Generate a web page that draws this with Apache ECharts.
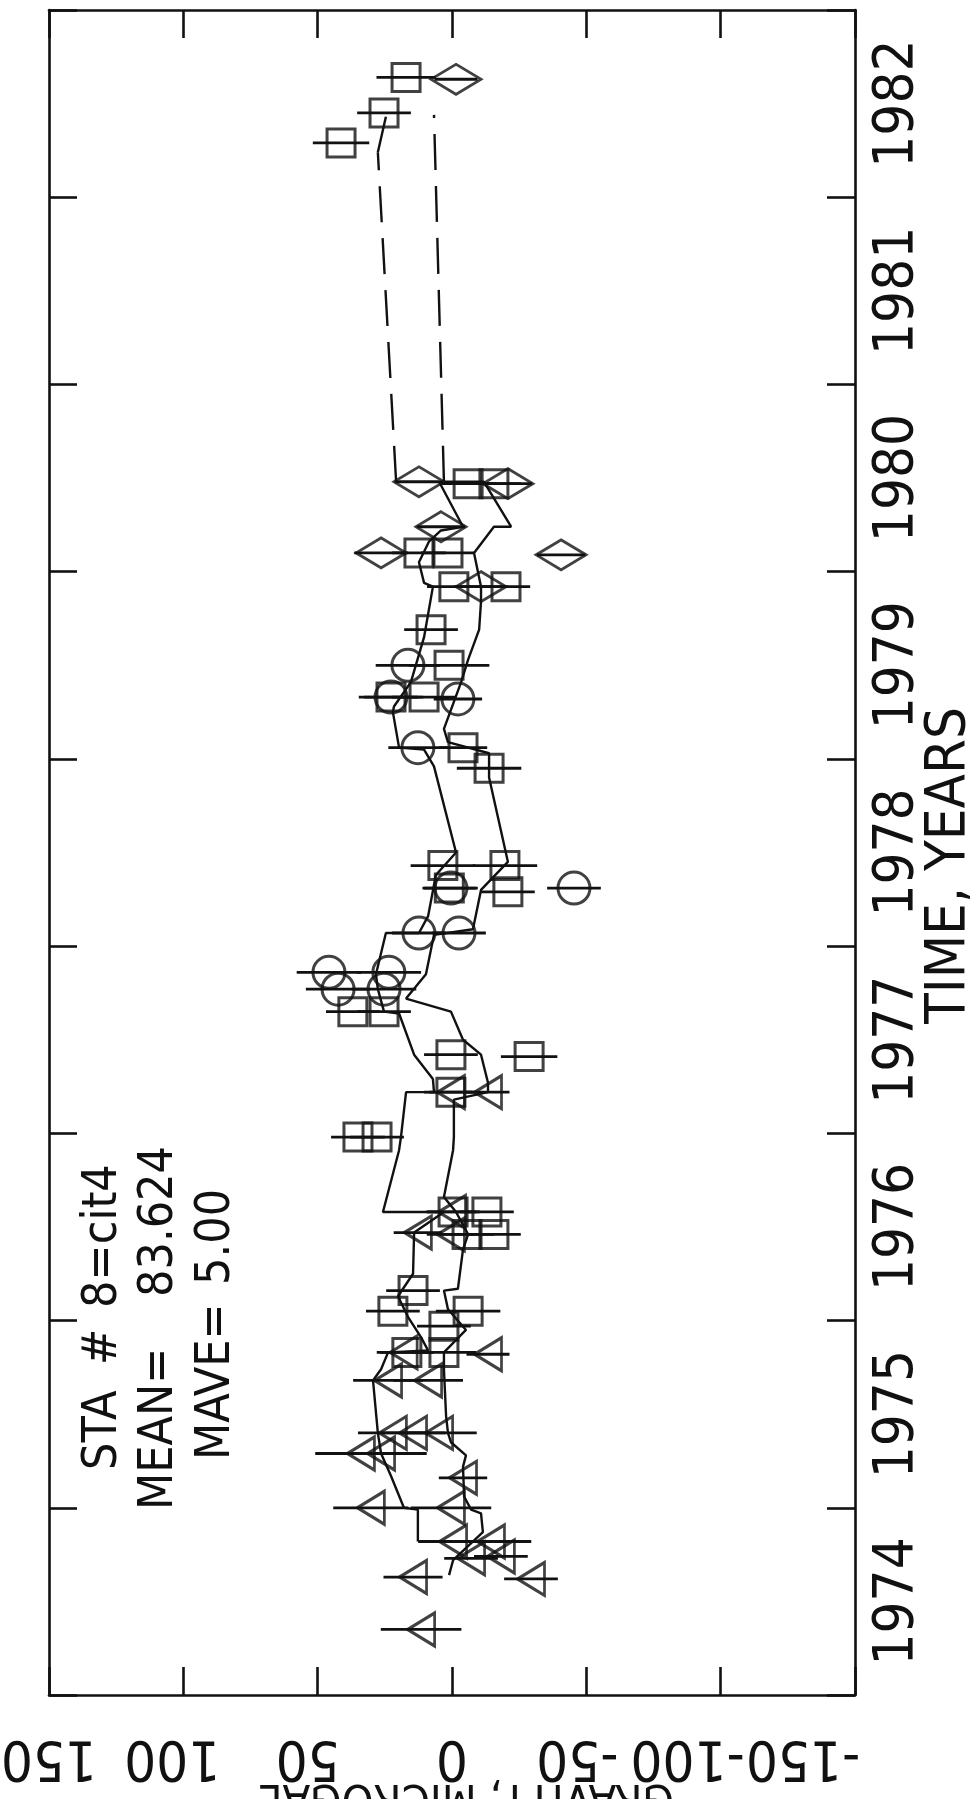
<!DOCTYPE html>
<html>
<head>
<meta charset="utf-8">
<script src="https://cdn.jsdelivr.net/npm/echarts@6/dist/echarts.min.js"></script>
<style>
html, body { margin: 0; padding: 0; background: #fff; }
#main { width: 976px; height: 1799px; }
</style>
</head>
<body>
<div id="main"></div>
<script>
// station gravity vs time, plotted sideways like the scanned page

var FONT = "'Liberation Sans Narrow', 'DejaVu Sans Condensed', 'Liberation Sans', sans-serif";
var INK = '#111';

// axis text
var timeName = 'TIME, YEARS';
var gravName = 'GRAVITY, MICROGAL';
var yearLabelPos = [1974.5, 1975.5, 1976.5, 1977.5, 1978.5, 1979.5, 1980.5, 1981.5, 1982.5];

// station text
var staWord = 'STA';
var staHash = '#';
var staId = '8=cit4';
var meanWord = 'MEAN=';
var meanVal = '83.624';
var maveWord = 'MAVE=';
var maveVal = '5.00';

// points: [year, microgal, error bar half width]
var triangles = [
  [1974.35, 11.5, 15], [1974.63, 14.5, 11], [1974.62, -29.4, 10],
  [1974.73, -7.1, 10], [1974.74, -18.2, 10], [1974.82, -0.4, 13],
  [1974.82, -14.5, 15], [1975.00, 30.2, 14], [1975.00, 0.4, 15],
  [1975.16, -4.1, 9], [1975.29, 33.9, 17], [1975.29, 26.4, 17],
  [1975.40, 22.0, 13], [1975.40, 14.5, 12], [1975.40, 4.8, 14],
  [1975.68, 23.8, 13], [1975.68, 8.9, 13], [1975.82, -13.4, 8],
  [1975.83, 18.0, 10], [1976.47, 12.7, 9], [1976.46, 0.4, 9],
  [1976.58, 0.0, 9], [1977.22, 0.4, 8], [1977.22, -13.4, 8]
];
var squares = [
  [1982.64, 17.1, 11], [1982.45, 25.3, 10], [1982.29, 41.3, 10.5],
  [1980.47, -6.0, 10], [1980.47, -15.6, 10], [1980.10, 12.3, 10],
  [1980.10, 1.5, 10], [1979.92, -0.7, 10], [1979.92, -20.1, 9],
  [1979.69, 7.8, 10], [1979.50, 1.1, 15], [1979.33, 22.7, 12],
  [1979.33, 10.4, 12], [1979.06, -4.1, 9], [1978.95, -13.8, 12],
  [1978.43, 3.4, 12], [1978.43, -19.7, 12], [1978.31, 1.0, 10],
  [1978.29, -20.8, 10], [1977.65, 36.9, 10], [1977.65, 25.3, 10],
  [1977.42, 0.4, 10], [1977.41, -28.7, 10.5], [1977.22, 0.4, 10],
  [1976.98, 35.0, 10], [1976.98, 27.9, 10], [1976.58, -0.4, 10],
  [1976.58, -13.0, 10], [1976.46, -5.6, 10], [1976.46, -15.6, 10],
  [1976.16, 14.5, 10], [1976.05, 22.0, 10], [1976.05, -6.0, 12],
  [1975.97, 3.0, 10], [1975.83, 16.8, 10], [1975.83, 3.0, 12]
];
var circles = [
  [1979.50, 16.4, 12], [1979.33, 22.7, 10], [1979.32, -2.2, 9],
  [1979.06, 12.7, 11], [1978.31, 0.4, 10], [1978.31, -45.4, 10],
  [1978.07, 12.3, 10], [1978.07, -2.6, 10], [1977.86, 45.8, 12],
  [1977.86, 23.5, 12], [1977.77, 42.4, 12], [1977.77, 25.3, 12]
];
var diamonds = [
  [1982.63, -1.5, 8], [1980.48, 12.3, 9], [1980.47, -20.8, 9],
  [1980.24, 4.1, 9], [1980.10, 26.4, 10], [1980.09, -40.6, 9],
  [1979.92, -10.8, 10]
];

// connecting traces: [year, microgal]
var traceA = [
  [1974.82, 12.7], [1974.99, 12.7], [1975.00, 17.9], [1975.17, 22.7],
  [1975.29, 26.4], [1975.40, 27.6], [1975.68, 29.4], [1975.74, 26.4],
  [1975.83, 23.8], [1975.84, 8.9], [1975.91, 11.5], [1976.02, 16.4],
  [1976.13, 20.1], [1976.25, 14.5], [1976.47, 14.1], [1976.58, 3.0],
  [1976.58, 25.7], [1976.91, 19.7], [1976.98, 19.0], [1977.22, 17.1],
  [1977.22, 6.7], [1977.29, 7.1], [1977.42, 14.1], [1977.64, 19.7],
  [1977.65, 25.3], [1977.77, 27.6], [1977.85, 28.3], [1978.07, 24.6],
  [1978.07, 12.3], [1978.16, 8.9], [1978.38, 6.0], [1978.50, -1.5],
  [1978.96, 6.7], [1979.05, 10.4], [1979.06, 19.7], [1979.25, 22.0],
  [1979.28, 21.6], [1979.41, 15.3], [1979.65, 10.4], [1979.92, 7.1],
  [1979.94, 10.4], [1980.05, 12.3], [1980.16, 8.6], [1980.22, 4.1],
  [1980.24, -4.1], [1980.48, 4.8], [1980.48, 20.8]
];
var traceB = [
  [1974.64, 1.1], [1974.72, -0.4], [1974.87, -11.5], [1974.97, -10.8],
  [1974.99, -7.1], [1975.06, -4.5], [1975.22, -4.1], [1975.28, -5.2],
  [1975.35, 0.4], [1975.40, 1.5], [1975.49, 2.2], [1975.74, 3.0],
  [1975.83, 3.0], [1975.95, -5.2], [1976.06, 1.5], [1976.16, 3.0],
  [1976.17, -2.2], [1976.38, -4.1], [1976.46, -6.0], [1976.58, -1.5],
  [1976.66, 3.0], [1976.91, -0.4], [1976.98, -0.7], [1977.18, -0.7],
  [1977.22, -13.4], [1977.27, -13.4], [1977.42, -10.8], [1977.50, -4.1],
  [1977.65, 0.4], [1977.72, 17.1], [1977.85, 9.7], [1978.06, 6.7],
  [1978.09, -7.8], [1978.30, -10.8], [1978.45, -20.8], [1978.90, -13.8],
  [1979.03, -13.8], [1979.09, 1.5], [1979.16, 3.0], [1979.41, -3.4],
  [1979.53, -6.0], [1979.69, -10.1], [1979.84, -10.8], [1979.92, -10.8],
  [1980.10, -8.2], [1980.24, -15.6], [1980.24, -22.0], [1980.48, -11.9],
  [1980.48, 3.0]
];
var gapA = [[1980.48, 20.8], [1982.24, 27.6]];
var gapB = [[1980.48, 3.0], [1982.44, 6.7]];
var tailA = [[1982.24, 27.6], [1982.43, 24.6]];

// x = gravity, y = time
function xy(arr) {
  return arr.map(function (d) { return [d[1], d[0]]; });
}
var allPoints = triangles.concat(squares, circles, diamonds).map(function (d) {
  return [d[1], d[0], d[2]];
});

var chart = echarts.init(document.getElementById('main'));

var tickStyle = { inside: true, length: 28, lineStyle: { color: INK, width: 2.6 } };
var frameLine = { onZero: false, lineStyle: { color: INK, width: 2.6 } };
var symStyle = { color: 'rgba(0,0,0,0)', borderColor: INK, borderWidth: 3 };

// the printed gravity labels sit a little inward of their ticks;
// left padding (labels are upside down) nudges each one toward the middle
var gLabelNudge = { '150': 0, '100': 22, '50': 20, '0': 0, '-50': 18, '-100': 66, '-150': 104 };
var gKeys = Object.keys(gLabelNudge);
var gRich = {};
gKeys.forEach(function (k, i) {
  gRich['g' + i] = {
    fontSize: 56, fontFamily: FONT, color: INK,
    padding: [0, 0, 0, gLabelNudge[k]]
  };
});

function traceSeries(data, dashed) {
  return {
    type: 'line',
    data: xy(data),
    showSymbol: false,
    silent: true,
    lineStyle: { color: INK, width: 2.4, type: dashed ? [36, 16] : 'solid' },
    z: 2
  };
}
function pointSeries(data, symbol, size, rotate) {
  return {
    type: 'scatter',
    data: xy(data),
    symbol: symbol,
    symbolSize: size,
    symbolRotate: rotate || 0,
    silent: true,
    itemStyle: symStyle,
    z: 4
  };
}
function textEl(str, x, y) {
  return {
    type: 'text', x: x, y: y, rotation: Math.PI / 2,
    style: { text: str, font: '48px ' + FONT, fill: INK, align: 'left', verticalAlign: 'middle' }
  };
}

var option = {
  animation: false,
  backgroundColor: '#fff',
  grid: { left: 49, right: 121, top: 10, bottom: 104, outerBoundsMode: 'none', containLabel: false },
  xAxis: [
    {
      type: 'value', position: 'bottom', min: -150, max: 150, interval: 50, inverse: true,
      axisLine: frameLine,
      axisTick: tickStyle,
      splitLine: { show: false },
      axisLabel: {
        rotate: 180, margin: 34, color: INK, fontSize: 56, fontFamily: FONT,
        showMinLabel: true, showMaxLabel: true, hideOverlap: false,
        rich: gRich,
        formatter: function (v) {
          var key = String(v);
          var txt = v < 0 ? '-' + Math.abs(v) : String(v);
          return '{g' + gKeys.indexOf(key) + '|' + txt + '}';
        }
      },
      name: gravName, nameLocation: 'middle', nameGap: 79, nameRotate: 180,
      nameMoveOverlap: false,
      nameTextStyle: { color: INK, fontSize: 45, fontFamily: FONT, padding: [0, 30, 0, 0] }
    },
    {
      type: 'value', position: 'top', min: -150, max: 150, interval: 50, inverse: true,
      axisLine: frameLine,
      axisTick: tickStyle,
      splitLine: { show: false },
      axisLabel: { show: false }
    }
  ],
  yAxis: [
    {
      type: 'value', position: 'right', min: 1974, max: 1983, interval: 1,
      axisLine: frameLine,
      axisTick: tickStyle,
      splitLine: { show: false },
      axisLabel: {
        customValues: yearLabelPos, rotate: 90, margin: 14, color: INK,
        fontSize: 56, fontFamily: FONT,
        formatter: function (v) { return String(Math.floor(v)); }
      },
      name: timeName, nameLocation: 'middle', nameGap: 66, nameRotate: 90,
      nameMoveOverlap: false,
      nameTextStyle: { color: INK, fontSize: 56, fontFamily: FONT, padding: [0, 26, 0, 0] }
    },
    {
      type: 'value', position: 'left', min: 1974, max: 1983, interval: 1,
      axisLine: frameLine,
      axisTick: tickStyle,
      splitLine: { show: false },
      axisLabel: { show: false }
    }
  ],
  graphic: [
    textEl(staWord, 104, 1470),
    textEl(staHash, 104, 1365),
    textEl(staId, 104, 1308),
    textEl(meanWord, 160, 1510),
    textEl(meanVal, 160, 1297),
    textEl(maveWord, 217, 1460),
    textEl(maveVal, 217, 1285)
  ],
  series: [
    traceSeries(traceA, false),
    traceSeries(traceB, false),
    traceSeries(tailA, false),
    traceSeries(gapA, true),
    traceSeries(gapB, true),
    {
      type: 'custom',
      data: allPoints,
      encode: { x: 0, y: 1 },
      silent: true,
      z: 3,
      renderItem: function (params, api) {
        var g = api.value(0), t = api.value(1), e = api.value(2);
        var a = api.coord([g - e, t]);
        var b = api.coord([g + e, t]);
        return {
          type: 'line',
          shape: { x1: a[0], y1: a[1], x2: b[0], y2: b[1] },
          style: { stroke: INK, lineWidth: 2.8 }
        };
      }
    },
    pointSeries(triangles, 'triangle', [33, 27], 90),
    pointSeries(squares, 'rect', 28),
    pointSeries(circles, 'circle', 32),
    pointSeries(diamonds, 'diamond', [50, 30])
  ]
};

chart.setOption(option);
</script>
</body>
</html>
